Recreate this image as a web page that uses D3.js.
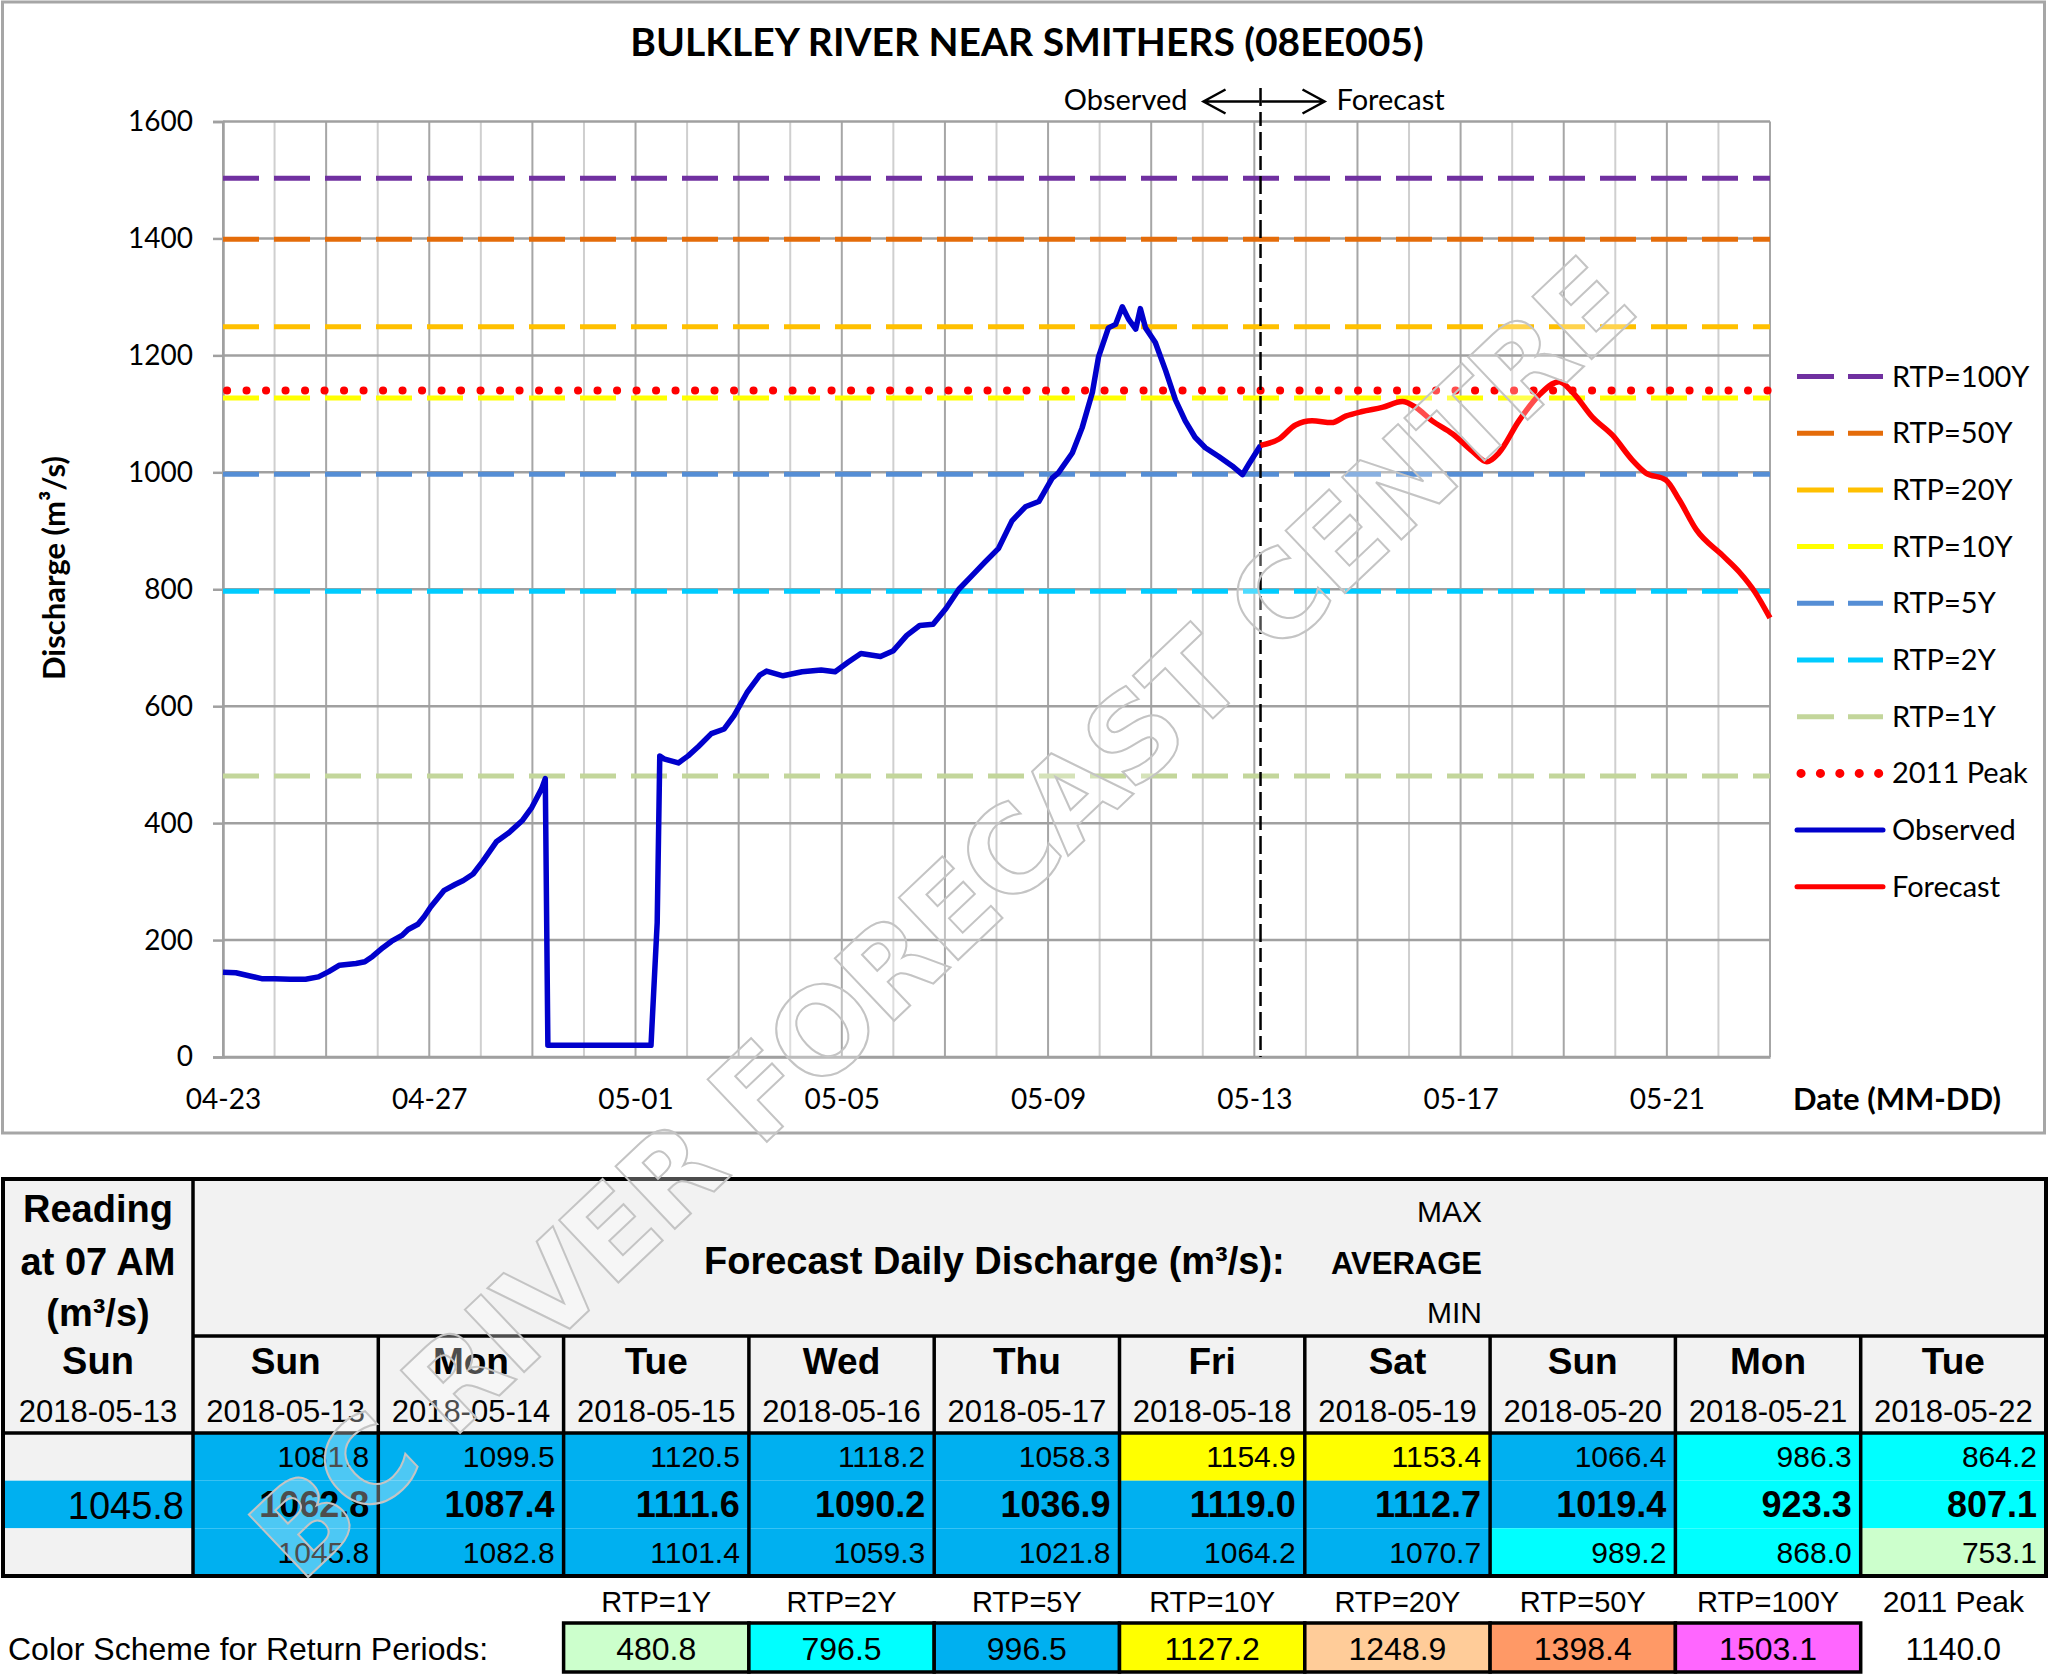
<!DOCTYPE html>
<html>
<head>
<meta charset="utf-8">
<script src="https://cdn.jsdelivr.net/npm/d3@7"></script>
<style>
body { margin: 0; background: #fff; }
svg { display: block; }
</style>
</head>
<body>
<svg id="chart" width="2048" height="1675"></svg>
<script>
// ---------- data ----------
var startDate = "2018-04-23";
var endDate = "2018-05-23";
var splitDay = 20.12; // days after start where observed turns into forecast

// observed discharge (days after 04-23, m3/s)
var obsDay = [0, 0.25, 0.5, 0.75, 1.0, 1.3, 1.6, 1.85, 2.05, 2.26, 2.58, 2.75, 2.9, 3.1, 3.27, 3.47, 3.59, 3.78, 3.9, 4.03,
  4.29, 4.5, 4.66, 4.85, 5.04, 5.3, 5.55, 5.8, 5.99, 6.18, 6.25, 6.3, 8.3, 8.42, 8.47, 8.55, 8.83, 9.02, 9.22, 9.47,
  9.72, 9.91, 10.16, 10.41, 10.54, 10.86, 11.23, 11.6, 11.87, 12.12, 12.37, 12.75, 13.0, 13.26, 13.51, 13.77, 14.02, 14.27, 14.52, 14.77,
  15.04, 15.3, 15.56, 15.82, 16.08, 16.2, 16.47, 16.66, 16.86, 16.98, 17.17, 17.31, 17.44, 17.56, 17.7, 17.79, 17.89, 18.08, 18.28, 18.47,
  18.66, 18.85, 19.05, 19.31, 19.57, 19.77, 19.9, 20.12];
var obsQ = [145, 144, 139, 134, 134, 133, 133, 137, 146, 157, 160, 163, 172, 187, 198, 208, 218, 227, 240, 257,
  285, 295, 302, 313, 335, 368, 384, 404, 427, 459, 476, 20, 20, 230, 515, 510, 503, 515, 531, 553,
  561, 584, 623, 653, 660, 652, 659, 662, 659, 675, 690, 685, 695, 721, 738, 740, 767, 800, 823, 846,
  870, 917, 941, 950, 990, 999, 1033, 1076, 1137, 1198, 1247, 1253, 1283, 1262, 1245, 1280, 1247, 1222, 1174, 1124,
  1088, 1060, 1042, 1027, 1011, 996, 1015, 1046];

// forecast discharge
var fcDay = [20.12, 20.48, 20.8, 21.12, 21.5, 21.77, 22.09, 22.48, 22.87, 23.13, 23.45, 23.84, 24.23, 24.51, 24.74,
  25.13, 25.51, 25.91, 26.17, 26.56, 26.95, 27.33, 27.59, 27.98, 28.24, 28.57, 29.08, 29.4, 29.71, 30.0];
var fcQ = [1046, 1057, 1081, 1088, 1085, 1096, 1104, 1111, 1121, 1111, 1088, 1066, 1036, 1018, 1033,
  1088, 1131, 1155, 1137, 1094, 1063, 1021, 999, 987, 953, 902, 858, 830, 795, 751];

// return period thresholds
var rtpNames = ["RTP=100Y", "RTP=50Y", "RTP=20Y", "RTP=10Y", "RTP=5Y", "RTP=2Y", "RTP=1Y"];
var rtpValues = [1503.1, 1398.4, 1248.9, 1127.2, 996.5, 796.5, 480.8];
var rtpColors = ["#7030A0", "#E46C0A", "#FFC000", "#FFFF00", "#558ED5", "#00CCFF", "#C3D69B"];
var peak2011 = 1140.0;

var yTicks = [0, 200, 400, 600, 800, 1000, 1200, 1400, 1600];

// table
var readingDay = "Sun", readingDate = "2018-05-13", readingValue = 1045.8;
var dayNames = ["Sun", "Mon", "Tue", "Wed", "Thu", "Fri", "Sat", "Sun", "Mon", "Tue"];
var dayDates = ["2018-05-13", "2018-05-14", "2018-05-15", "2018-05-16", "2018-05-17",
  "2018-05-18", "2018-05-19", "2018-05-20", "2018-05-21", "2018-05-22"];
var maxQ = [1081.8, 1099.5, 1120.5, 1118.2, 1058.3, 1154.9, 1153.4, 1066.4, 986.3, 864.2];
var avgQ = [1062.8, 1087.4, 1111.6, 1090.2, 1036.9, 1119.0, 1112.7, 1019.4, 923.3, 807.1];
var minQ = [1045.8, 1082.8, 1101.4, 1059.3, 1021.8, 1064.2, 1070.7, 989.2, 868.0, 753.1];
var schemeLabels = ["RTP=1Y", "RTP=2Y", "RTP=5Y", "RTP=10Y", "RTP=20Y", "RTP=50Y", "RTP=100Y"];
var schemeValues = [480.8, 796.5, 996.5, 1127.2, 1248.9, 1398.4, 1503.1];
var schemeColors = ["#CCFFCC", "#00FFFF", "#00B0F0", "#FFFF00", "#FFCC99", "#FF9966", "#FF66FF"];

// ---------- chart ----------
var svg = d3.select("#chart");
var chartFont = "Lato, 'Open Sans', sans-serif";
var tableFont = "'Liberation Sans', Arial, sans-serif";

var plot = { left: 223, right: 1770, top: 121.5, bottom: 1057 };

var t0 = new Date(startDate + "T00:00:00Z");
var t1 = new Date(endDate + "T00:00:00Z");
function dayToDate(d) { return new Date(t0.getTime() + d * 864e5); }

var x = d3.scaleUtc().domain([t0, t1]).range([plot.left, plot.right]);
var y = d3.scaleLinear().domain([0, 1600]).range([plot.bottom, plot.top]);

// outer frame of chart
svg.append("rect")
  .attr("x", 2.5).attr("y", 2).attr("width", 2042).attr("height", 1131)
  .attr("fill", "#fff").attr("stroke", "#A6A6A6").attr("stroke-width", 3);

// title
svg.append("text")
  .attr("x", 1027).attr("y", 56)
  .attr("text-anchor", "middle")
  .style("font-family", chartFont).style("font-weight", "bold").style("font-size", "39px")
  .text("BULKLEY RIVER NEAR SMITHERS (08EE005)");

// vertical gridlines, one per day
var nDays = d3.utcDay.count(t0, t1);
svg.append("g").selectAll("line")
  .data(d3.range(0, nDays + 1))
  .enter().append("line")
  .attr("x1", function (d) { return x(dayToDate(d)); })
  .attr("x2", function (d) { return x(dayToDate(d)); })
  .attr("y1", plot.top).attr("y2", plot.bottom)
  .attr("stroke", function (d) { return d % 2 == 0 ? "#A6A6A6" : "#CFCFCF"; })
  .attr("stroke-width", 2);

// horizontal gridlines
svg.append("g").selectAll("line")
  .data(yTicks)
  .enter().append("line")
  .attr("x1", plot.left).attr("x2", plot.right)
  .attr("y1", function (d) { return y(d); })
  .attr("y2", function (d) { return y(d); })
  .attr("stroke", "#A0A0A0").attr("stroke-width", 2.5);

// y axis
var yAxis = svg.append("g")
  .attr("transform", "translate(" + plot.left + ",0)")
  .call(d3.axisLeft(y).tickValues(yTicks).tickFormat(d3.format("d")).tickSize(10).tickPadding(20));
yAxis.select(".domain").attr("stroke", "#A0A0A0").attr("stroke-width", 2.5);
yAxis.selectAll(".tick line").attr("stroke", "#A0A0A0").attr("stroke-width", 2.5);
yAxis.selectAll("text")
  .style("font-family", chartFont).style("font-size", "28px").attr("fill", "#000");

// x axis
var xTicks = d3.range(0, nDays, 4).map(dayToDate);
var xAxis = svg.append("g")
  .attr("transform", "translate(0," + plot.bottom + ")")
  .call(d3.axisBottom(x).tickValues(xTicks).tickFormat(d3.utcFormat("%m-%d")).tickSize(0).tickPadding(33));
xAxis.select(".domain").attr("stroke", "#A0A0A0").attr("stroke-width", 2.5);
xAxis.selectAll("text")
  .attr("dy", 0).attr("y", 52)
  .style("font-family", chartFont).style("font-size", "28px").attr("fill", "#000");

// axis titles
svg.append("text")
  .attr("transform", "translate(65,568) rotate(-90)")
  .attr("text-anchor", "middle")
  .style("font-family", chartFont).style("font-weight", "bold").style("font-size", "31px")
  .text("Discharge (m³/s)");
svg.append("text")
  .attr("x", 1793).attr("y", 1110)
  .style("font-family", chartFont).style("font-weight", "bold").style("font-size", "31px")
  .text("Date (MM-DD)");

// return period lines
svg.append("g").selectAll("line")
  .data(rtpValues)
  .enter().append("line")
  .attr("x1", plot.left).attr("x2", plot.right)
  .attr("y1", function (d) { return y(d); })
  .attr("y2", function (d) { return y(d); })
  .attr("stroke", function (d, i) { return rtpColors[i]; })
  .attr("stroke-width", 5)
  .attr("stroke-dasharray", "36,15");

// 2011 peak, dotted
svg.append("line")
  .attr("x1", plot.left + 4).attr("x2", plot.right)
  .attr("y1", y(peak2011)).attr("y2", y(peak2011))
  .attr("stroke", "#FF0000").attr("stroke-width", 8)
  .attr("stroke-linecap", "round")
  .attr("stroke-dasharray", "0.1,19.4");

// observed / forecast divider
var xs = x(dayToDate(splitDay));
svg.append("line")
  .attr("x1", xs).attr("x2", xs).attr("y1", 88).attr("y2", plot.bottom)
  .attr("stroke", "#000").attr("stroke-width", 2.5)
  .attr("stroke-dasharray", "18,6,14,6");

// series
var line = d3.line()
  .x(function (d) { return x(dayToDate(d[0])); })
  .y(function (d) { return y(d[1]); });

svg.append("path")
  .datum(d3.zip(obsDay, obsQ))
  .attr("d", line)
  .attr("fill", "none").attr("stroke", "#0000CC").attr("stroke-width", 5.5)
  .attr("stroke-linejoin", "round");

svg.append("path")
  .datum(d3.zip(fcDay, fcQ))
  .attr("d", line.curve(d3.curveMonotoneX))
  .attr("fill", "none").attr("stroke", "#FF0000").attr("stroke-width", 5.5)
  .attr("stroke-linejoin", "round");

// observed <-|-> forecast annotation
var ay = 101.5;
var ann = svg.append("g").attr("fill", "none").attr("stroke", "#000").attr("stroke-width", 2.5);
ann.append("path").attr("d", "M" + (xs - 1) + "," + ay + "H" + (xs - 57) +
  "M" + (xs - 35) + "," + (ay - 12) + "L" + (xs - 57) + "," + ay + "L" + (xs - 35) + "," + (ay + 12));
ann.append("path").attr("d", "M" + (xs + 1) + "," + ay + "H" + (xs + 64) +
  "M" + (xs + 42) + "," + (ay - 12) + "L" + (xs + 64) + "," + ay + "L" + (xs + 42) + "," + (ay + 12));
svg.append("text")
  .attr("x", xs - 73).attr("y", 110).attr("text-anchor", "end")
  .style("font-family", chartFont).style("font-size", "29px")
  .text("Observed");
svg.append("text")
  .attr("x", xs + 76).attr("y", 110)
  .style("font-family", chartFont).style("font-size", "29px")
  .text("Forecast");

// legend
var legendItems = rtpNames.map(function (n, i) { return { name: n, color: rtpColors[i], type: "dash" }; })
  .concat([{ name: "2011 Peak", color: "#FF0000", type: "dot" },
           { name: "Observed", color: "#0000CC", type: "solid" },
           { name: "Forecast", color: "#FF0000", type: "solid" }]);

var legend = svg.selectAll("g.legend")
  .data(legendItems)
  .enter().append("g")
  .attr("class", "legend")
  .attr("transform", function (d, i) { return "translate(1797," + (376.5 + i * 56.7) + ")"; });

legend.append("line")
  .attr("x1", function (d) { return d.type == "dot" ? 4 : 0; })
  .attr("x2", 86).attr("y1", 0).attr("y2", 0)
  .attr("stroke", function (d) { return d.color; })
  .attr("stroke-width", function (d) { return d.type == "dot" ? 9 : 5; })
  .attr("stroke-linecap", function (d) { return d.type == "dash" ? "butt" : "round"; })
  .attr("stroke-dasharray", function (d) {
    return d.type == "dash" ? "37,14" : d.type == "dot" ? "0.1,19.3" : null;
  });

legend.append("text")
  .attr("x", 95).attr("y", 10)
  .style("font-family", chartFont).style("font-size", "29px")
  .text(function (d) { return d.name; });

// ---------- table ----------
var cellColor = d3.scaleThreshold()
  .domain(schemeValues)
  .range(["#FFFFFF"].concat(schemeColors));

var tTop = 1179, tSplit = 1336, tHead = 1433, tBottom = 1576, tLeft = 3, tRight = 2046, tCol0 = 193;
var col = d3.scaleBand().domain(d3.range(dayDates.length)).range([tCol0, tRight]);
var row = d3.scaleBand().domain(["max", "avg", "min"]).range([tHead, tBottom]);

var table = svg.append("g");

// header background
table.append("rect")
  .attr("x", tLeft).attr("y", tTop).attr("width", tRight - tLeft).attr("height", tHead - tTop)
  .attr("fill", "#F2F2F2");

// reading column cells
table.selectAll("rect.rd")
  .data(["max", "avg", "min"])
  .enter().append("rect")
  .attr("class", "rd")
  .attr("x", tLeft).attr("width", tCol0 - tLeft)
  .attr("y", function (d) { return row(d); })
  .attr("height", row.bandwidth())
  .attr("fill", function (d) { return d == "avg" ? cellColor(readingValue) : "#F2F2F2"; });

// forecast cells
var cellData = [];
dayDates.forEach(function (dt, i) {
  cellData.push({ i: i, r: "max", v: maxQ[i] });
  cellData.push({ i: i, r: "avg", v: avgQ[i] });
  cellData.push({ i: i, r: "min", v: minQ[i] });
});

table.selectAll("rect.cell")
  .data(cellData)
  .enter().append("rect")
  .attr("class", "cell")
  .attr("x", function (d) { return col(d.i); })
  .attr("y", function (d) { return row(d.r); })
  .attr("width", col.bandwidth())
  .attr("height", row.bandwidth())
  .attr("fill", function (d) { return cellColor(d.v); });

table.selectAll("text.cell")
  .data(cellData)
  .enter().append("text")
  .attr("class", "cell")
  .attr("x", function (d) { return col(d.i) + col.bandwidth() - 9; })
  .attr("y", function (d) { return d.r == "max" ? 1467 : d.r == "avg" ? 1517 : 1563; })
  .attr("text-anchor", "end")
  .style("font-family", tableFont)
  .style("font-weight", function (d) { return d.r == "avg" ? "bold" : "normal"; })
  .style("font-size", function (d) { return d.r == "avg" ? "36px" : "30px"; })
  .text(function (d) { return d.v.toFixed(1); });

// day headers
table.selectAll("text.day")
  .data(dayNames)
  .enter().append("text")
  .attr("class", "day")
  .attr("x", function (d, i) { return col(i) + col.bandwidth() / 2; })
  .attr("y", 1374)
  .attr("text-anchor", "middle")
  .style("font-family", tableFont).style("font-weight", "bold").style("font-size", "37px")
  .text(function (d) { return d; });

table.selectAll("text.date")
  .data(dayDates)
  .enter().append("text")
  .attr("class", "date")
  .attr("x", function (d, i) { return col(i) + col.bandwidth() / 2; })
  .attr("y", 1422)
  .attr("text-anchor", "middle")
  .style("font-family", tableFont).style("font-size", "31px")
  .text(function (d) { return d; });

// reading column header
var cx0 = (tLeft + tCol0) / 2;
var readLines = [["Reading", 1222], ["at 07 AM", 1275], ["(m³/s)", 1326], [readingDay, 1374]];
table.selectAll("text.rh")
  .data(readLines)
  .enter().append("text")
  .attr("class", "rh")
  .attr("x", cx0).attr("y", function (d) { return d[1]; })
  .attr("text-anchor", "middle")
  .style("font-family", tableFont).style("font-weight", "bold").style("font-size", "38px")
  .text(function (d) { return d[0]; });
table.append("text")
  .attr("x", cx0).attr("y", 1422).attr("text-anchor", "middle")
  .style("font-family", tableFont).style("font-size", "31px")
  .text(readingDate);
table.append("text")
  .attr("x", tCol0 - 9).attr("y", 1519).attr("text-anchor", "end")
  .style("font-family", tableFont).style("font-size", "38px")
  .text(readingValue.toFixed(1));

// header title
table.append("text")
  .attr("x", 704).attr("y", 1274)
  .style("font-family", tableFont).style("font-weight", "bold").style("font-size", "38px")
  .text("Forecast Daily Discharge (m³/s):");
table.append("text")
  .attr("x", 1482).attr("y", 1274).attr("text-anchor", "end")
  .style("font-family", tableFont).style("font-weight", "bold").style("font-size", "31px")
  .text("AVERAGE");
table.append("text")
  .attr("x", 1482).attr("y", 1222).attr("text-anchor", "end")
  .style("font-family", tableFont).style("font-size", "30px")
  .text("MAX");
table.append("text")
  .attr("x", 1482).attr("y", 1323).attr("text-anchor", "end")
  .style("font-family", tableFont).style("font-size", "30px")
  .text("MIN");

// table borders
var bw = 3.5;
table.append("rect")
  .attr("x", tLeft).attr("y", tTop).attr("width", tRight - tLeft).attr("height", tBottom - tTop)
  .attr("fill", "none").attr("stroke", "#000").attr("stroke-width", 4);
table.append("line").attr("x1", tCol0).attr("x2", tCol0).attr("y1", tTop).attr("y2", tBottom)
  .attr("stroke", "#000").attr("stroke-width", bw);
table.append("line").attr("x1", tCol0).attr("x2", tRight).attr("y1", tSplit).attr("y2", tSplit)
  .attr("stroke", "#000").attr("stroke-width", bw);
table.append("line").attr("x1", tLeft).attr("x2", tRight).attr("y1", tHead).attr("y2", tHead)
  .attr("stroke", "#000").attr("stroke-width", bw);
table.selectAll("line.vcol")
  .data(d3.range(1, dayDates.length))
  .enter().append("line")
  .attr("class", "vcol")
  .attr("x1", function (d) { return col(d); }).attr("x2", function (d) { return col(d); })
  .attr("y1", tSplit).attr("y2", tBottom)
  .attr("stroke", "#000").attr("stroke-width", bw);

// colour scheme legend under the table
var boxTop = 1623, boxH = 49;
table.append("text")
  .attr("x", 8).attr("y", 1660)
  .style("font-family", tableFont).style("font-size", "32px")
  .text("Color Scheme for Return Periods:");

var scheme = table.selectAll("g.scheme")
  .data(schemeValues)
  .enter().append("g")
  .attr("class", "scheme")
  .attr("transform", function (d, i) { return "translate(" + col(i + 2) + ",0)"; });
scheme.append("rect")
  .attr("x", 0).attr("y", boxTop).attr("width", col.bandwidth()).attr("height", boxH)
  .attr("fill", function (d, i) { return schemeColors[i]; })
  .attr("stroke", "#000").attr("stroke-width", 3.5);
scheme.append("text")
  .attr("x", col.bandwidth() / 2).attr("y", 1612).attr("text-anchor", "middle")
  .style("font-family", tableFont).style("font-size", "29px")
  .text(function (d, i) { return schemeLabels[i]; });
scheme.append("text")
  .attr("x", col.bandwidth() / 2).attr("y", 1660).attr("text-anchor", "middle")
  .style("font-family", tableFont).style("font-size", "32px")
  .text(function (d) { return d.toFixed(1); });

var peakX = col(9) + col.bandwidth() / 2;
table.append("text")
  .attr("x", peakX).attr("y", 1612).attr("text-anchor", "middle")
  .style("font-family", tableFont).style("font-size", "30px")
  .text("2011 Peak");
table.append("text")
  .attr("x", peakX).attr("y", 1660).attr("text-anchor", "middle")
  .style("font-family", tableFont).style("font-size", "32px")
  .text(peak2011.toFixed(1));

// watermark
svg.append("text")
  .attr("transform", "translate(943,918) rotate(-43.5)")
  .attr("text-anchor", "middle")
  .attr("dominant-baseline", "central")
  .attr("textLength", 1850).attr("lengthAdjust", "spacing")
  .style("font-family", "'DejaVu Sans', sans-serif").style("font-weight", "bold").style("font-size", "118px")
  .attr("fill", "#fff").attr("fill-opacity", 0.3)
  .attr("stroke", "#C4C4C4").attr("stroke-width", 2)
  .text("BC RIVER FORECAST CENTRE");
</script>
</body>
</html>
